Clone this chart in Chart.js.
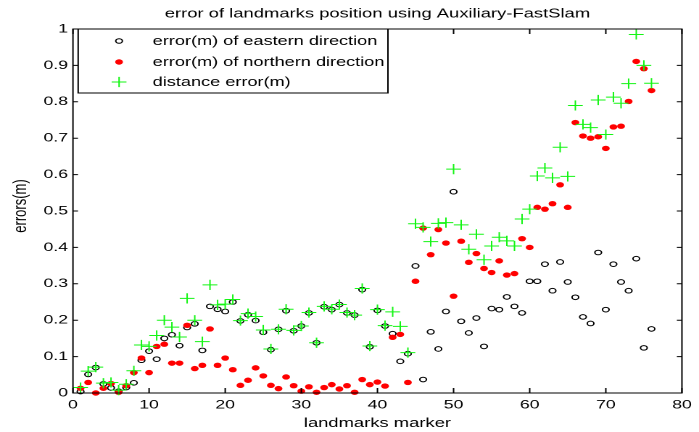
<!DOCTYPE html>
<html>
<head>
<meta charset="utf-8">
<title>error of landmarks position</title>
<script src="https://cdn.jsdelivr.net/npm/chart.js@4.4.1/dist/chart.umd.min.js"></script>
<style>
    html, body { margin: 0; padding: 0; background: #fff; overflow: hidden; }
    #wrap { width: 699px; height: 432px; position: relative; overflow: hidden; }
    /* the reference figure is stretched sideways, so draw narrow and widen it */
    #errChart { position: absolute; left: 0; top: 0; transform-origin: 0 0; transform: scaleX(1.4502); }
</style>
</head>
<body>
<div id="wrap"><canvas id="errChart" width="482" height="432"></canvas></div>
<script>
var landmarks = [1, 2, 3, 4, 5, 6, 7, 8, 9, 10, 11, 12, 13, 14, 15, 16, 17, 18, 19, 20,
    21, 22, 23, 24, 25, 26, 27, 28, 29, 30, 31, 32, 33, 34, 35, 36, 37, 38, 39, 40,
    41, 42, 43, 44, 45, 46, 47, 48, 49, 50, 51, 52, 53, 54, 55, 56, 57, 58, 59, 60,
    61, 62, 63, 64, 65, 66, 67, 68, 69, 70, 71, 72, 73, 74, 75, 76];

var eastErr = [0.004, 0.051, 0.07, 0.025, 0.014, 0.005, 0.015, 0.028, 0.09, 0.115,
    0.093, 0.15, 0.16, 0.13, 0.18, 0.19, 0.117, 0.238, 0.23, 0.224,
    0.25, 0.198, 0.215, 0.199, 0.167, 0.119, 0.175, 0.226, 0.171, 0.184,
    0.22, 0.138, 0.237, 0.229, 0.243, 0.22, 0.214, 0.284, 0.127, 0.227,
    0.184, 0.163, 0.087, 0.108, 0.349, 0.037, 0.168, 0.121, 0.224, 0.553,
    0.197, 0.165, 0.206, 0.128, 0.232, 0.229, 0.264, 0.238, 0.22, 0.307,
    0.307, 0.354, 0.281, 0.36, 0.305, 0.263, 0.209, 0.191, 0.386, 0.229,
    0.354, 0.305, 0.281, 0.369, 0.124, 0.176];

var northErr = [0.013, 0.029, 0.0, 0.013, 0.026, 0.002, 0.02, 0.056, 0.096, 0.056,
    0.128, 0.134, 0.082, 0.082, 0.186, 0.067, 0.076, 0.176, 0.076, 0.096,
    0.064, 0.021, 0.035, 0.069, 0.047, 0.021, 0.012, 0.044, 0.02, 0.005,
    0.017, 0.002, 0.015, 0.023, 0.011, 0.02, 0.002, 0.037, 0.023, 0.03,
    0.019, 0.153, 0.161, 0.029, 0.307, 0.453, 0.38, 0.449, 0.412, 0.266,
    0.417, 0.359, 0.383, 0.342, 0.331, 0.363, 0.324, 0.328, 0.424, 0.4,
    0.51, 0.505, 0.52, 0.572, 0.51, 0.743, 0.706, 0.7, 0.704, 0.672,
    0.731, 0.733, 0.801, 0.911, 0.891, 0.831];

var distErr = [0.015, 0.06, 0.071, 0.027, 0.029, 0.008, 0.024, 0.061, 0.132, 0.128,
    0.158, 0.2, 0.181, 0.154, 0.26, 0.2, 0.141, 0.297, 0.242, 0.244,
    0.257, 0.199, 0.218, 0.21, 0.173, 0.121, 0.175, 0.23, 0.172, 0.184,
    0.221, 0.138, 0.238, 0.23, 0.243, 0.221, 0.214, 0.287, 0.129, 0.229,
    0.185, 0.223, 0.183, 0.111, 0.465, 0.455, 0.416, 0.466, 0.468, 0.615,
    0.462, 0.395, 0.436, 0.366, 0.404, 0.428, 0.418, 0.404, 0.478, 0.505,
    0.596, 0.618, 0.591, 0.675, 0.595, 0.79, 0.738, 0.729, 0.805, 0.71,
    0.813, 0.796, 0.85, 0.985, 0.9, 0.851];

var xTicks = [0, 10, 20, 30, 40, 50, 60, 70, 80];
var yTicks = [0, 0.1, 0.2, 0.3, 0.4, 0.5, 0.6, 0.7, 0.8, 0.9, 1];

var seriesNames = ['error(m) of eastern direction', 'error(m) of northern direction', 'distance error(m)'];
var titleText = 'error of landmarks position using Auxiliary-FastSlam';
var xTitle = 'landmarks marker';
var yTitle = 'errors(m)';

var FONT = '"Liberation Sans", Arial, Helvetica, sans-serif';
var GREEN = 'rgb(20,245,20)';

function points(values) {
    return landmarks.map(function(x, i) { return { x: x, y: values[i] }; });
}

function drawMarker(ctx, kind, x, y) {
    ctx.save();
    ctx.beginPath();
    if (kind == 0) {
        ctx.strokeStyle = '#000';
        ctx.lineWidth = 1;
        ctx.arc(x, y, 2.3, 0, Math.PI * 2);
        ctx.stroke();
    } else if (kind == 1) {
        ctx.fillStyle = '#ff0000';
        ctx.arc(x, y, 2.7, 0, Math.PI * 2);
        ctx.fill();
    } else {
        ctx.strokeStyle = GREEN;
        ctx.lineWidth = 1;
        ctx.moveTo(x - 5.1, y); ctx.lineTo(x + 5.1, y);
        ctx.moveTo(x, y - 5.1); ctx.lineTo(x, y + 5.1);
        ctx.stroke();
    }
    ctx.restore();
}

// matlab style box, inward ticks, titles and the legend
var matlabFrame = {
    id: 'matlabFrame',
    afterDraw: function(chart) {
        var ctx = chart.ctx;
        var a = chart.chartArea;
        var sx = chart.scales.x, sy = chart.scales.y;
        ctx.save();
        ctx.strokeStyle = '#000';
        ctx.lineWidth = 1;
        ctx.strokeRect(a.left, a.top, a.right - a.left, a.bottom - a.top);
        ctx.beginPath();
        xTicks.forEach(function(v) {
            var px = sx.getPixelForValue(v);
            ctx.moveTo(px, a.bottom); ctx.lineTo(px, a.bottom - 5);
            ctx.moveTo(px, a.top); ctx.lineTo(px, a.top + 5);
        });
        yTicks.forEach(function(v) {
            var py = sy.getPixelForValue(v);
            ctx.moveTo(a.left, py); ctx.lineTo(a.left + 3.5, py);
            ctx.moveTo(a.right, py); ctx.lineTo(a.right - 3.5, py);
        });
        ctx.stroke();

        var cx = (a.left + a.right) / 2;
        ctx.fillStyle = '#000';
        ctx.font = '12.7px ' + FONT;
        ctx.textAlign = 'center';
        ctx.textBaseline = 'alphabetic';
        ctx.fillText(titleText, cx, 17.5);
        ctx.fillText(xTitle, cx, 427);

        ctx.save();
        ctx.translate(14.2, 206);
        ctx.rotate(-Math.PI / 2);
        ctx.textBaseline = 'middle';
        ctx.font = '13px ' + FONT;
        ctx.fillText(yTitle, 0, 0);
        ctx.restore();

        // legend box
        var lx = 53.9, ly = a.top, lw = 213.6, lh = 64;
        ctx.fillStyle = '#fff';
        ctx.fillRect(lx, ly, lw, lh);
        ctx.strokeRect(lx, ly, lw, lh);
        var rows = [41, 62, 82];
        ctx.font = '12.5px ' + FONT;
        ctx.textAlign = 'left';
        ctx.textBaseline = 'middle';
        ctx.fillStyle = '#000';
        seriesNames.forEach(function(name, i) {
            drawMarker(ctx, i, 82.1, rows[i]);
            ctx.fillText(name, 105.3, rows[i] + 0.5);
        });
        ctx.restore();
    }
};

var ctxEl = document.getElementById('errChart').getContext('2d');
var myChart = new Chart(ctxEl, {
    type: 'scatter',
    data: {
        datasets: [{
            label: seriesNames[0],
            data: points(eastErr),
            pointStyle: 'circle',
            pointRadius: 2.3,
            backgroundColor: 'rgba(0,0,0,0)',
            borderColor: '#000',
            borderWidth: 1,
            clip: false,
            order: 3
        }, {
            label: seriesNames[1],
            data: points(northErr),
            pointStyle: 'circle',
            pointRadius: 2.7,
            backgroundColor: '#ff0000',
            borderColor: '#ff0000',
            borderWidth: 0,
            clip: false,
            order: 2
        }, {
            label: seriesNames[2],
            data: points(distErr),
            pointStyle: 'cross',
            pointRadius: 5.1,
            borderColor: GREEN,
            backgroundColor: GREEN,
            borderWidth: 1,
            clip: false,
            order: 1
        }]
    },
    options: {
        responsive: false,
        animation: false,
        devicePixelRatio: 2,
        layout: { padding: { top: 29, right: 7.6, bottom: 0, left: 0 } },
        plugins: {
            legend: { display: false },
            title: { display: false },
            tooltip: { enabled: false }
        },
        scales: {
            x: {
                type: 'linear',
                min: 0,
                max: 80,
                grid: { display: false, drawTicks: false },
                border: { display: false },
                afterBuildTicks: function(scale) {
                    scale.ticks = xTicks.map(function(v) { return { value: v }; });
                },
                afterFit: function(scale) { scale.height = 39; },
                ticks: {
                    autoSkip: false,
                    maxRotation: 0,
                    padding: 5,
                    color: '#000',
                    font: { family: FONT, size: 12.2 }
                }
            },
            y: {
                type: 'linear',
                min: 0,
                max: 1,
                grid: { display: false, drawTicks: false },
                border: { display: false },
                afterBuildTicks: function(scale) {
                    scale.ticks = yTicks.map(function(v) { return { value: v }; });
                },
                afterFit: function(scale) { scale.width = 50.3; },
                ticks: {
                    autoSkip: false,
                    padding: 3.4,
                    color: '#000',
                    font: { family: FONT, size: 12.2 },
                    callback: function(v) { return String(+v.toFixed(1)); }
                }
            }
        }
    },
    plugins: [matlabFrame]
});
</script>
</body>
</html>
